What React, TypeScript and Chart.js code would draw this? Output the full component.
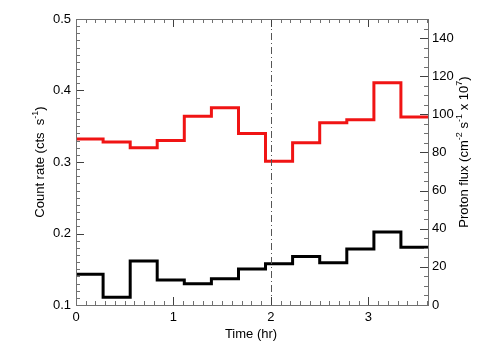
import React, { useEffect, useRef } from "react";
import { Chart, registerables } from "chart.js";

Chart.register(...registerables);

// Bin edges (hr), 13 bins
const binEdges = [0, 0.278, 0.556, 0.833, 1.111, 1.389, 1.667, 1.944, 2.222, 2.5, 2.778, 3.056, 3.333, 3.611];
// Count rate (cts s^-1), left axis, red
const countRate = [0.332, 0.328, 0.32, 0.33, 0.364, 0.376, 0.34, 0.301, 0.327, 0.355, 0.359, 0.411, 0.363];
// Proton flux (cm^-2 s^-1 x 10^7), right axis, black
const protonFlux = [16.1, 4.0, 23.1, 13.1, 11.2, 13.8, 18.9, 21.7, 25.5, 22.2, 29.4, 38.3, 30.3];

const xTickValues = [0, 1, 2, 3];
const leftTickValues = [0.1, 0.2, 0.3, 0.4, 0.5];
const rightTickValues = [0, 20, 40, 60, 80, 100, 120, 140];
const markerTime = 2;

const FONT = '"Liberation Sans", Arial, Helvetica, sans-serif';

function stepPoints(edges: number[], vals: number[]) {
  return edges.map((e, i) => ({ x: e, y: vals[Math.min(i, vals.length - 1)] }));
}

type Seg = { t: string; sup?: boolean };

function drawRich(ctx: CanvasRenderingContext2D, segs: Seg[], cx: number, cy: number, rot: number, size: number) {
  ctx.save();
  ctx.translate(cx, cy);
  ctx.rotate(rot);
  const supSize = size * 0.7;
  const widths = segs.map((s) => {
    ctx.font = `${s.sup ? supSize : size}px ${FONT}`;
    return ctx.measureText(s.t).width;
  });
  const total = widths.reduce((a, b) => a + b, 0);
  let x = -total / 2;
  const base = size * 0.36;
  ctx.fillStyle = "#000";
  ctx.textBaseline = "alphabetic";
  ctx.textAlign = "left";
  segs.forEach((s, i) => {
    ctx.font = `${s.sup ? supSize : size}px ${FONT}`;
    ctx.fillText(s.t, x, s.sup ? base - size * 0.42 : base);
    x += widths[i];
  });
  ctx.restore();
}

function drawTicks(ctx: CanvasRenderingContext2D, chart: any) {
  const a = chart.chartArea;
  const xs = chart.scales.x;
  const yl = chart.scales.yL;
  const yr = chart.scales.yR;
  const L = Math.round(a.left);
  const R = Math.round(a.right);
  const T = Math.round(a.top);
  const B = Math.round(a.bottom);
  const majorLen = 8;
  const minorLen = 4;
  const majorCol = "#404040";
  const minorCol = "#707070";
  for (let i = 0; i <= 36; i++) {
    const px = Math.round(xs.getPixelForValue(i / 10));
    const major = i % 10 === 0;
    const len = major ? majorLen : minorLen;
    ctx.fillStyle = major ? majorCol : minorCol;
    ctx.fillRect(px, B - len, 1, len);
    ctx.fillRect(px, T, 1, len);
  }
  for (let i = 10; i <= 50; i++) {
    const py = Math.round(yl.getPixelForValue(i / 100));
    const major = i % 10 === 0;
    const len = major ? majorLen : minorLen;
    ctx.fillStyle = major ? majorCol : minorCol;
    ctx.fillRect(L, py, len, 1);
  }
  for (let v = 0; v <= 150; v += 5) {
    const py = Math.round(yr.getPixelForValue(v));
    const major = v % 20 === 0;
    const len = major ? majorLen : minorLen;
    ctx.fillStyle = major ? majorCol : minorCol;
    ctx.fillRect(R - len, py, len, 1);
  }
  ctx.fillStyle = "#707070";
  ctx.fillRect(L, T, R - L + 1, 1);
  ctx.fillRect(L, B, R - L + 1, 1);
  ctx.fillRect(L, T, 1, B - T + 1);
  ctx.fillRect(R, T, 1, B - T + 1);
}

const decorPlugin = {
  id: "decor",
  afterDraw(chart: any) {
    const ctx: CanvasRenderingContext2D = chart.ctx;
    const a = chart.chartArea;
    const xs = chart.scales.x;
    ctx.save();
    const mx = Math.round(xs.getPixelForValue(markerTime)) + 0.5;
    ctx.strokeStyle = "#555";
    ctx.lineWidth = 1;
    ctx.setLineDash([7, 3, 1, 3]);
    ctx.beginPath();
    ctx.moveTo(mx, a.top);
    ctx.lineTo(mx, a.bottom);
    ctx.stroke();
    ctx.setLineDash([]);
    drawTicks(ctx, chart);
    ctx.restore();

    drawRich(ctx, [{ t: "Time (hr)" }], 251, 333, 0, 13);
    drawRich(ctx, [{ t: "Count rate (cts  s" }, { t: "-1", sup: true }, { t: ")" }], 39, 162, -Math.PI / 2, 13);
    drawRich(
      ctx,
      [
        { t: "Proton flux (cm" },
        { t: "-2", sup: true },
        { t: " s" },
        { t: "-1", sup: true },
        { t: " x 10" },
        { t: "7", sup: true },
        { t: ")" },
      ],
      463,
      152,
      -Math.PI / 2,
      13
    );
  },
};

export default function App() {
  const ref = useRef<HTMLCanvasElement>(null);
  useEffect(() => {
    if (!ref.current) return;
    const tickFont = { family: FONT, size: 13 };
    const chart = new Chart(ref.current, {
      type: "line",
      data: {
        datasets: [
          {
            data: stepPoints(binEdges, countRate),
            yAxisID: "yL",
            borderColor: "#f01414",
            borderWidth: 3,
            stepped: "before",
            pointRadius: 0,
            fill: false,
          },
          {
            data: stepPoints(binEdges, protonFlux),
            yAxisID: "yR",
            borderColor: "#000",
            borderWidth: 3,
            stepped: "before",
            pointRadius: 0,
            fill: false,
          },
        ],
      },
      plugins: [decorPlugin],
      options: {
        responsive: false,
        animation: false,
        layout: { padding: { top: 19, left: 0, right: 0, bottom: 0 } },
        plugins: { legend: { display: false }, tooltip: { enabled: false } },
        scales: {
          x: {
            type: "linear",
            min: 0,
            max: binEdges[binEdges.length - 1],
            grid: { display: false, drawTicks: false },
            border: { display: false },
            afterBuildTicks: (s: any) => {
              s.ticks = xTickValues.map((v) => ({ value: v }));
            },
            afterFit: (s: any) => {
              s.height = 55;
            },
            ticks: {
              font: tickFont,
              color: "#000",
              padding: 5,
              maxRotation: 0,
              callback: (v: any) => String(v),
            },
          },
          yL: {
            type: "linear",
            position: "left",
            min: 0.1,
            max: 0.5,
            grid: { display: false, drawTicks: false },
            border: { display: false },
            afterBuildTicks: (s: any) => {
              s.ticks = leftTickValues.map((v) => ({ value: v }));
            },
            afterFit: (s: any) => {
              s.width = 76;
            },
            ticks: {
              font: tickFont,
              color: "#000",
              padding: 5,
              callback: (v: any) => Number(v).toFixed(1),
            },
          },
          yR: {
            type: "linear",
            position: "right",
            min: 0,
            max: 150,
            grid: { display: false, drawTicks: false },
            border: { display: false },
            afterBuildTicks: (s: any) => {
              s.ticks = rightTickValues.map((v) => ({ value: v }));
            },
            afterFit: (s: any) => {
              s.width = 76;
            },
            ticks: {
              font: tickFont,
              color: "#000",
              padding: 4,
              callback: (v: any) => String(v),
            },
          },
        },
      },
    });
    return () => chart.destroy();
  }, []);
  return (
    <div style={{ position: "absolute", left: 0, top: 0, width: 504, height: 360, background: "#fff" }}>
      <canvas ref={ref} width={504} height={360} />
    </div>
  );
}
